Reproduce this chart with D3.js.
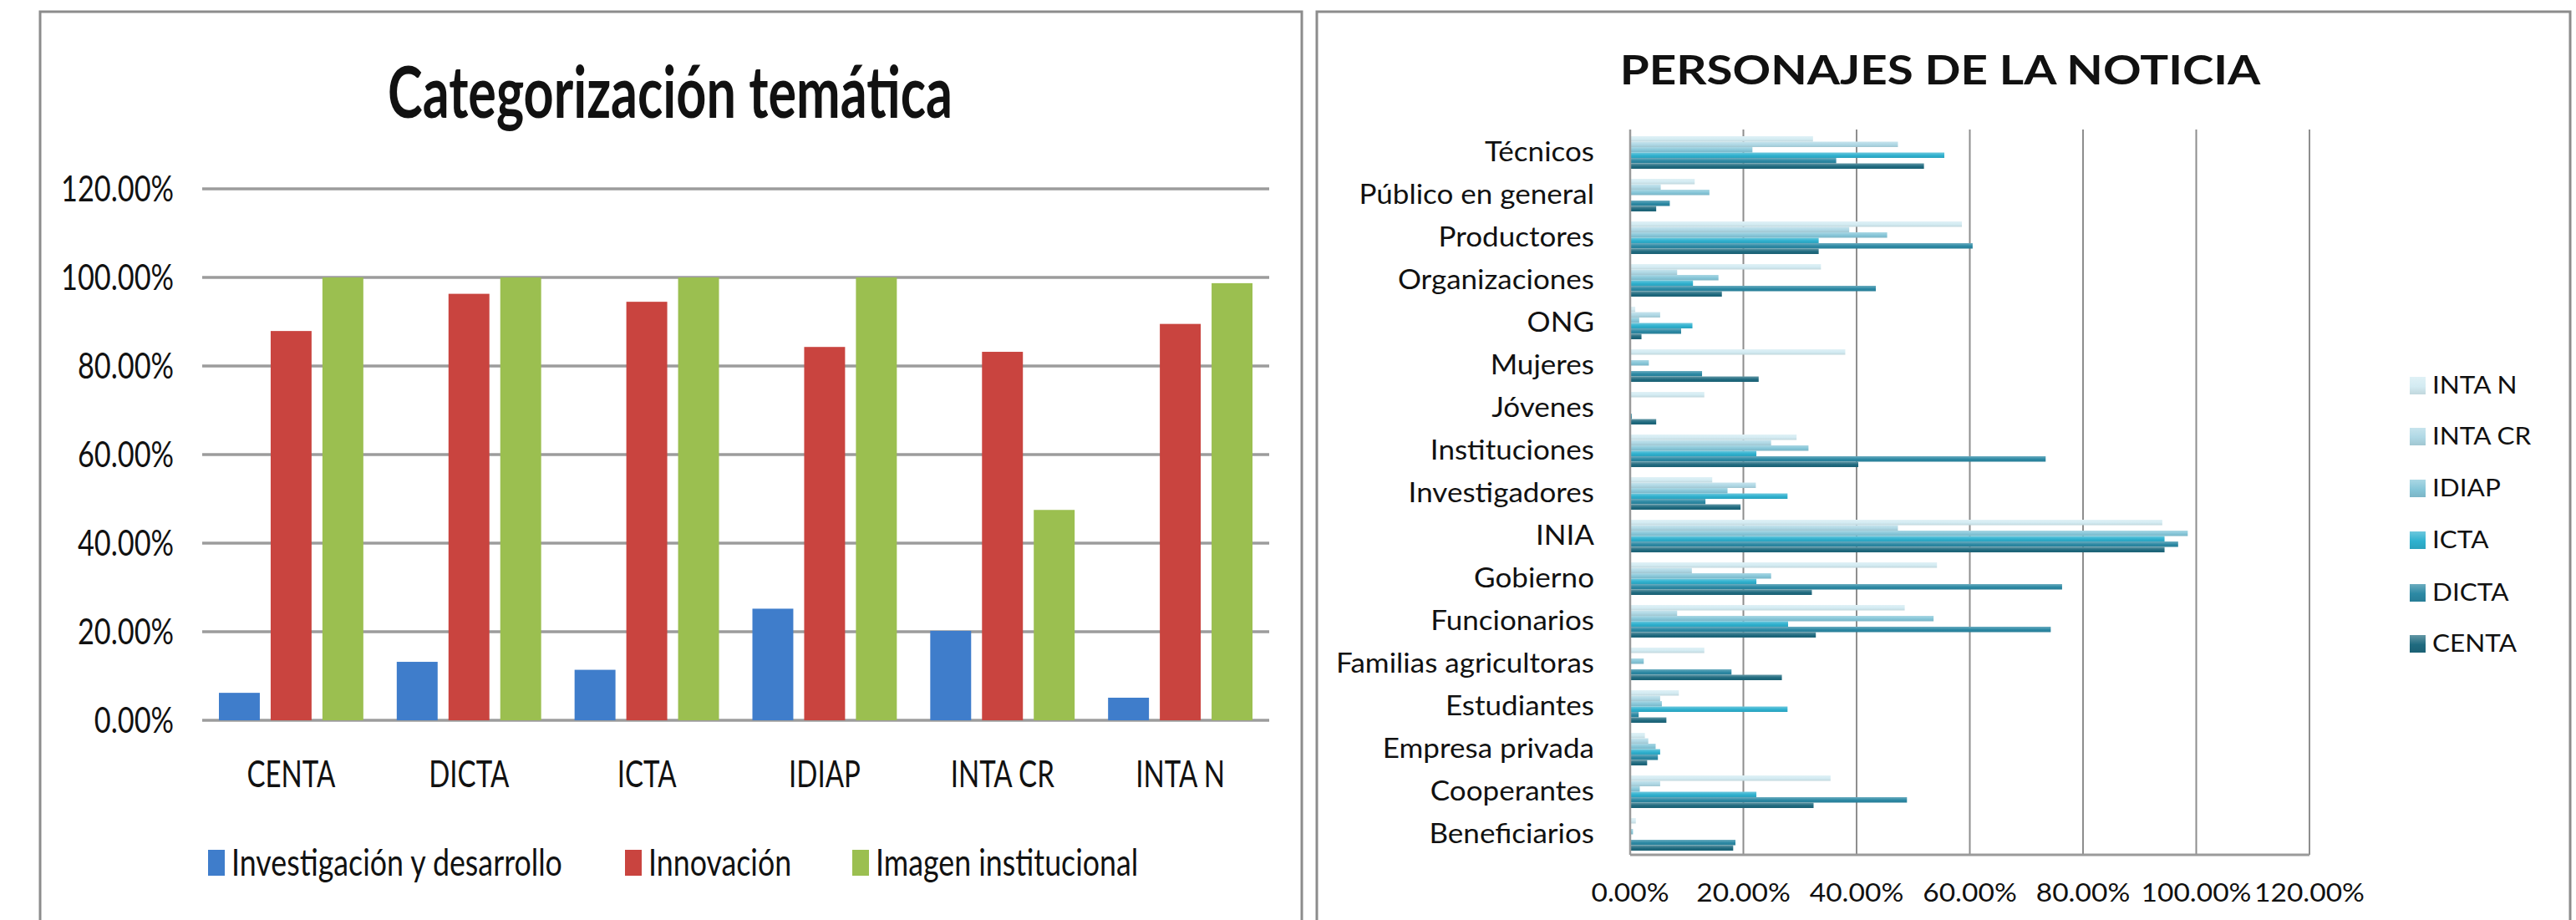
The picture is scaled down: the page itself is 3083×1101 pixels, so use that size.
<!DOCTYPE html>
<html>
<head>
<meta charset="utf-8">
<script src="https://cdn.jsdelivr.net/npm/d3@7"></script>
<style>
  html, body { margin: 0; padding: 0; background: #fff; }
  svg { display: block; }
  text { font-family: Lato, "Open Sans", sans-serif; fill: #111; }
</style>
</head>
<body>
<script>
//==================================================================//
//  DATA
//==================================================================//

// left chart: Categorizacion tematica (percent)
var temaCategories = ["CENTA", "DICTA", "ICTA", "IDIAP", "INTA CR", "INTA N"];
var temaSeries = ["Investigación y desarrollo", "Innovación", "Imagen institucional"];
var investigacion = [6.2, 13.2, 11.4, 25.2, 20.2, 5.1];
var innovacion = [87.9, 96.3, 94.5, 84.3, 83.2, 89.5];
var imagen = [100, 100, 100, 100, 47.5, 98.7];
var temaTicks = [0, 20, 40, 60, 80, 100, 120];

// right chart: Personajes de la noticia (percent)
var personajes = ["Técnicos", "Público en general", "Productores", "Organizaciones", "ONG",
  "Mujeres", "Jóvenes", "Instituciones", "Investigadores", "INIA", "Gobierno",
  "Funcionarios", "Familias agricultoras", "Estudiantes", "Empresa privada",
  "Cooperantes", "Beneficiarios"];
// series listed top to bottom inside each group (same order as the legend)
var institutos = ["INTA N", "INTA CR", "IDIAP", "ICTA", "DICTA", "CENTA"];
var intaN  = [32.3, 11.4, 58.6, 33.7, 0.9, 38.0, 13.1, 29.4, 14.5, 94.0, 54.2, 48.5, 13.1, 8.6, 2.6, 35.4, 1.0];
var intaCR = [47.3, 5.4, 38.7, 8.3, 5.3, 0, 0, 24.9, 22.2, 47.3, 10.9, 8.3, 0, 5.3, 3.2, 5.3, 0];
var idiap  = [21.6, 14.0, 45.4, 15.6, 1.6, 3.3, 0, 31.5, 17.2, 98.5, 24.9, 53.6, 2.4, 5.6, 4.5, 1.7, 0.5];
var icta   = [55.5, 0, 33.3, 11.1, 11.0, 0, 0, 22.3, 27.8, 94.4, 22.3, 27.9, 0, 27.8, 5.3, 22.3, 0];
var dicta  = [36.4, 7.0, 60.5, 43.4, 9.0, 12.7, 0.3, 73.4, 13.3, 96.8, 76.3, 74.3, 17.9, 1.5, 4.9, 48.9, 18.6];
var centa  = [51.9, 4.6, 33.3, 16.2, 2.0, 22.7, 4.6, 40.3, 19.5, 94.4, 32.1, 32.8, 26.8, 6.4, 3.0, 32.4, 18.2];
var personajesTicks = [0, 20, 40, 60, 80, 100, 120];

//==================================================================//
//  SETUP
//==================================================================//

var svg = d3.select("body").append("svg")
    .attr("width", 3083)
    .attr("height", 1101);

var defs = svg.append("defs");

// measure a string so text can be squeezed to the width seen in the picture
function widthOf(str, size, weight) {
    var t = svg.append("text")
        .attr("font-size", size + "px")
        .attr("font-weight", weight)
        .text(str);
    var w = t.node().getComputedTextLength();
    t.remove();
    return w;
}

function addText(str, x, y, size, weight, anchor, sx) {
    return svg.append("text")
        .attr("transform", "translate(" + x + "," + y + ") scale(" + sx + ",1)")
        .attr("font-size", size + "px")
        .attr("font-weight", weight)
        .attr("text-anchor", anchor)
        .text(str);
}

function pct(d) { return d3.format(".2f")(d) + "%"; }

// panel frames
svg.append("rect")
    .attr("x", 48).attr("y", 14)
    .attr("width", 1510).attr("height", 1200)
    .attr("fill", "#fff")
    .attr("stroke", "#8c8c8c")
    .attr("stroke-width", 3);
svg.append("rect")
    .attr("x", 1576).attr("y", 14)
    .attr("width", 1500).attr("height", 1200)
    .attr("fill", "#fff")
    .attr("stroke", "#8c8c8c")
    .attr("stroke-width", 3);

//==================================================================//
//  LEFT CHART - Categorizacion tematica
//==================================================================//

var temaColor = d3.scaleOrdinal()
    .domain(temaSeries)
    .range(["#3f7dcb", "#c9443f", "#9bbf50"]);

var lx0 = d3.scaleBand()
    .domain(temaCategories)
    .range([242, 1519]);
var lx1 = d3.scaleBand()
    .domain(temaSeries)
    .range([20, lx0.bandwidth() - 20])
    .paddingInner(0.21);
var ly = d3.scaleLinear()
    .domain([0, 120])
    .range([862, 226]);

// gridlines
svg.append("g")
    .selectAll("line")
    .data(temaTicks)
    .join("line")
        .attr("x1", lx0.range()[0])
        .attr("x2", lx0.range()[1])
        .attr("y1", function(d) { return ly(d); })
        .attr("y2", function(d) { return ly(d); })
        .attr("stroke", "#9c9c9c")
        .attr("stroke-width", 3.5);

// bars
var temaValues = [investigacion, innovacion, imagen];
var temaRows = [];
temaCategories.forEach(function(c, i) {
    temaSeries.forEach(function(s, j) {
        temaRows.push({ cat: c, serie: s, value: temaValues[j][i] });
    });
});
svg.append("g")
    .selectAll("rect")
    .data(temaRows)
    .join("rect")
        .attr("x", function(d) { return lx0(d.cat) + lx1(d.serie); })
        .attr("y", function(d) { return ly(d.value); })
        .attr("width", lx1.bandwidth())
        .attr("height", function(d) { return ly(0) - ly(d.value); })
        .attr("fill", function(d) { return temaColor(d.serie); });

// title
var sxTitle = 676 / widthOf("Categorización temática", 86, "bold");
addText("Categorización temática", 802, 141, 86, "bold", "middle", sxTitle);

// y tick labels
var sxTick = 135 / widthOf("120.00%", 43, "normal");
temaTicks.forEach(function(d) {
    addText(pct(d), 208, ly(d) + 15, 43, "normal", "end", sxTick);
});

// category labels
var sxCat = 106 / widthOf("CENTA", 45, "normal");
temaCategories.forEach(function(c) {
    addText(c, lx0(c) + lx0.bandwidth() / 2, 942, 45, "normal", "middle", sxCat);
});

// legend
var sxLeg = 396 / widthOf("Investigación y desarrollo", 45, "normal");
var legKeyX = [249, 748, 1020];
temaSeries.forEach(function(s, i) {
    svg.append("rect")
        .attr("x", legKeyX[i]).attr("y", 1017)
        .attr("width", 20).attr("height", 31)
        .attr("fill", temaColor(s));
    addText(s, legKeyX[i] + 28, 1048, 45, "normal", "start", sxLeg);
});

//==================================================================//
//  RIGHT CHART - Personajes de la noticia
//==================================================================//

var persColor = d3.scaleOrdinal()
    .domain(institutos)
    .range(["#d3ebf2", "#afd8e5", "#86c6d8", "#2fb1cf", "#2c89a4", "#1f6a7f"]);

// excel style gradient on each series
institutos.forEach(function(s, i) {
    var base = d3.color(persColor(s));
    var g = defs.append("linearGradient")
        .attr("id", "grad" + i)
        .attr("x1", 0).attr("y1", 0)
        .attr("x2", 0).attr("y2", 1);
    g.append("stop").attr("offset", "0%").attr("stop-color", d3.interpolateRgb(base, "#fff")(0.3));
    g.append("stop").attr("offset", "55%").attr("stop-color", base.formatHex());
    g.append("stop").attr("offset", "100%").attr("stop-color", base.darker(0.25).formatHex());
});

var rx = d3.scaleLinear()
    .domain([0, 120])
    .range([1951, 2764]);
var ry0 = d3.scaleBand()
    .domain(personajes)
    .range([156, 1023]);
var ry1 = d3.scaleBand()
    .domain(institutos)
    .range([7, ry0.bandwidth() - 5]);

// vertical gridlines
svg.append("g")
    .selectAll("line")
    .data(personajesTicks)
    .join("line")
        .attr("x1", function(d) { return rx(d); })
        .attr("x2", function(d) { return rx(d); })
        .attr("y1", 155)
        .attr("y2", 1023)
        .attr("stroke", "#8e8e8e")
        .attr("stroke-width", 2);

// bars
var persValues = [intaN, intaCR, idiap, icta, dicta, centa];
var persRows = [];
personajes.forEach(function(p, i) {
    institutos.forEach(function(s, j) {
        persRows.push({ cat: p, serie: s, idx: j, value: persValues[j][i] });
    });
});
svg.append("g")
    .selectAll("rect")
    .data(persRows)
    .join("rect")
        .attr("x", rx(0))
        .attr("y", function(d) { return ry0(d.cat) + ry1(d.serie); })
        .attr("width", function(d) { return rx(d.value) - rx(0); })
        .attr("height", ry1.bandwidth())
        .attr("fill", function(d) { return "url(#grad" + d.idx + ")"; });

// axis lines
svg.append("line")
    .attr("x1", rx(0)).attr("x2", rx(120))
    .attr("y1", 1023).attr("y2", 1023)
    .attr("stroke", "#9a9a9a")
    .attr("stroke-width", 3);
svg.append("line")
    .attr("x1", rx(0)).attr("x2", rx(0))
    .attr("y1", 155).attr("y2", 1023)
    .attr("stroke", "#9a9a9a")
    .attr("stroke-width", 2.5);

// title
var sxTitle2 = 767 / widthOf("PERSONAJES DE LA NOTICIA", 48, "bold");
addText("PERSONAJES DE LA NOTICIA", 2322, 101, 48, "bold", "middle", sxTitle2);

// category labels
var sxPers = 309 / widthOf("Familias agricultoras", 32, "normal");
personajes.forEach(function(p) {
    addText(p, 1908, ry0(p) + ry0.bandwidth() / 2 + 11, 32, "normal", "end", sxPers);
});

// x tick labels
var sxTick2 = 132 / widthOf("100.00%", 30, "normal");
personajesTicks.forEach(function(d) {
    addText(pct(d), rx(d), 1079, 30, "normal", "middle", sxTick2);
});

// legend
var sxLeg2 = 101 / widthOf("CENTA", 29, "normal");
var legY = [461, 522, 584, 646, 709, 770];
institutos.forEach(function(s, i) {
    svg.append("rect")
        .attr("x", 2884).attr("y", legY[i] - 10)
        .attr("width", 19).attr("height", 21)
        .attr("fill", "url(#grad" + i + ")");
    addText(s, 2911, legY[i] + 10, 29, "normal", "start", sxLeg2);
});
</script>
</body>
</html>
